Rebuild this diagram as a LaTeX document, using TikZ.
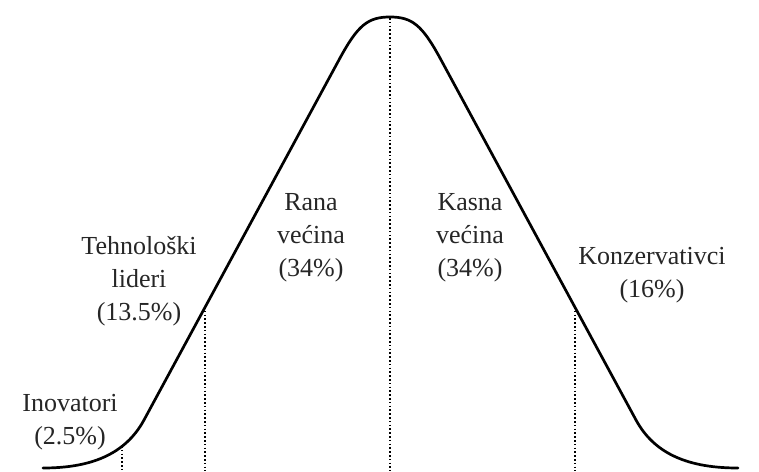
\documentclass[tikz,border=0pt]{standalone}
\usepackage{fontspec}
\setmainfont{Liberation Serif}
\begin{document}
\begin{tikzpicture}[x=1pt,y=-1pt,
  curveline/.style={line width=2.7pt,line cap=round,line join=round},
  dotline/.style={line width=1.9pt,dash pattern=on 1.6pt off 2.2pt},
  lbl/.style={align=center,inner sep=0pt,text=black!85,font=\fontsize{26}{33}\selectfont}]
\useasboundingbox (0,0) rectangle (759,471);
% bell curve
\draw[curveline] (43,468) .. controls (90,468) and (125,455) .. (144,420)
  -- (340,58) .. controls (358,25) and (368,17) .. (390,17)
  .. controls (412,17) and (422,25) .. (440,58)
  -- (636,420) .. controls (655,455) and (690,468) .. (738,468);
% divider coordinates
\coordinate (d1t) at (122,446); \coordinate (d1b) at (122,471);
\coordinate (d2t) at (205,307); \coordinate (d2b) at (205,471);
\coordinate (d3t) at (390,18);  \coordinate (d3b) at (390,471);
\coordinate (d4t) at (575,307); \coordinate (d4b) at (575,471);
\draw[dotline] (d1t) -- (d1b);
\draw[dotline] (d2t) -- (d2b);
\draw[dotline] (d3t) -- (d3b);
\draw[dotline] (d4t) -- (d4b);
% labels
\node[lbl] (inov) at (70,422) {Inovatori\\(2.5\%)};
\node[lbl] (teh) at (139,281) {Tehnološki\\lideri\\(13.5\%)};
\node[lbl] (rana) at (311,238) {Rana\\većina\\(34\%)};
\node[lbl] (kasna) at (470,238) {Kasna\\većina\\(34\%)};
\node[lbl] (konz) at (652,275) {Konzervativci\\(16\%)};
\end{tikzpicture}
\end{document}
